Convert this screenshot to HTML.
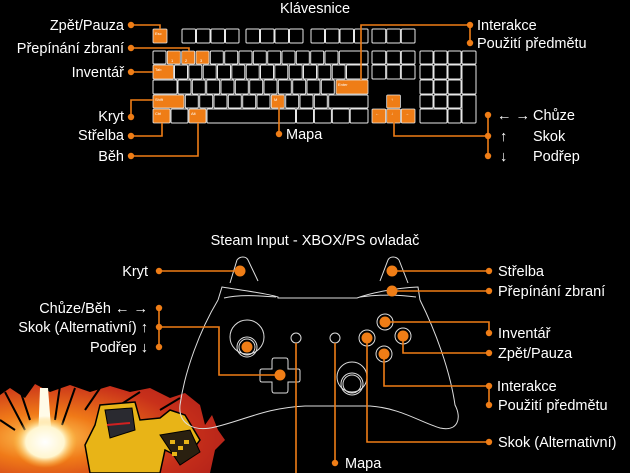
<!DOCTYPE html>
<html><head><meta charset="utf-8"><style>
html,body{margin:0;padding:0;background:#000;width:630px;height:473px;overflow:hidden}
svg{display:block}
text{font-family:"Liberation Sans","DejaVu Sans",sans-serif;fill:#fff;font-size:14.5px}
.k{fill:#000;stroke:#e8e8e8;stroke-width:1}
.o{fill:#ef7d16;stroke:#e8e8e8;stroke-width:0.8}
.l{stroke:#ef7d16;stroke-width:1.6;fill:none}
.d{fill:#ef7d16}
.c{fill:none;stroke:#ddd;stroke-width:1}
.t{font-size:4px}
</style></head><body>
<svg width="630" height="473" viewBox="0 0 630 473" xmlns="http://www.w3.org/2000/svg">
<defs>
<radialGradient id="g1" cx="0.2" cy="0.6" r="0.9"><stop offset="0" stop-color="#ffd060"/><stop offset="0.3" stop-color="#f07a18"/><stop offset="0.7" stop-color="#c8301a"/><stop offset="1" stop-color="#b0201a"/></radialGradient>
<radialGradient id="g2" cx="0.5" cy="0.5" r="0.5"><stop offset="0" stop-color="#fff"/><stop offset="0.6" stop-color="#fff6d0"/><stop offset="1" stop-color="#ffc040" stop-opacity="0"/></radialGradient>
</defs>
<!-- comic image -->
<polygon points="0,395 10,388 25,398 35,384 50,392 70,385 90,392 110,386 130,392 150,388 170,398 185,393 200,405 205,425 212,415 218,430 225,440 215,450 210,473 0,473" fill="url(#g1)"/>
<g stroke="#000" stroke-width="2">
<line x1="5" y1="392" x2="25" y2="430"/><line x1="20" y1="390" x2="30" y2="420"/><line x1="60" y1="386" x2="55" y2="420"/><line x1="75" y1="388" x2="62" y2="425"/><line x1="100" y1="388" x2="85" y2="410"/><line x1="140" y1="392" x2="120" y2="405"/><line x1="180" y1="398" x2="160" y2="410"/><line x1="0" y1="420" x2="15" y2="430"/>
</g>
<polygon points="40,388 48,388 52,440 38,440" fill="#fffbe8"/>
<ellipse cx="45" cy="442" rx="32" ry="26" fill="url(#g2)"/>
<path d="M95,425 L100,405 L135,402 L140,420 L160,418 L170,410 L185,415 L200,440 L185,460 L165,450 L160,473 L90,473 L85,445 Z" fill="#e8b417" stroke="#000" stroke-width="1.5"/>
<path d="M105,410 L132,408 L135,430 L110,438 Z" fill="#2a2a30" stroke="#000"/>
<line x1="107" y1="425" x2="130" y2="423" stroke="#d02020" stroke-width="2"/>
<path d="M160,435 L190,430 L200,452 L180,465 Z" fill="#2a2010" stroke="#000"/>
<g fill="#e8b417"><rect x="170" y="440" width="5" height="4"/><rect x="178" y="446" width="5" height="4"/><rect x="172" y="452" width="5" height="4"/><rect x="184" y="440" width="5" height="4"/></g>

<!-- titles -->
<text x="315" y="13" text-anchor="middle">Klávesnice</text>
<text x="315" y="245" text-anchor="middle">Steam Input - XBOX/PS ovladač</text>

<!-- keyboard -->
<g>
<rect class="o" x="153" y="29" width="14" height="14" rx="1"/>
<rect class="k" x="182" y="29" width="13.5" height="14" rx="1"/><rect class="k" x="196.5" y="29" width="13.5" height="14" rx="1"/><rect class="k" x="211" y="29" width="13.5" height="14" rx="1"/><rect class="k" x="225.5" y="29" width="13.5" height="14" rx="1"/>
<rect class="k" x="246" y="29" width="13.5" height="14" rx="1"/><rect class="k" x="260.5" y="29" width="13.5" height="14" rx="1"/><rect class="k" x="275" y="29" width="13.5" height="14" rx="1"/><rect class="k" x="289.5" y="29" width="13.5" height="14" rx="1"/>
<rect class="k" x="311" y="29" width="13.5" height="14" rx="1"/><rect class="k" x="325.5" y="29" width="13.5" height="14" rx="1"/><rect class="k" x="340" y="29" width="13.5" height="14" rx="1"/><rect class="k" x="354.5" y="29" width="13.5" height="14" rx="1"/>
<rect class="k" x="372" y="29" width="13.7" height="14" rx="1"/><rect class="k" x="386.7" y="29" width="13.7" height="14" rx="1"/><rect class="k" x="401.3" y="29" width="13.7" height="14" rx="1"/>
<rect class="k" x="153" y="51" width="13" height="13" rx="1"/>
<rect class="o" x="167.3" y="51" width="13" height="13" rx="1"/><rect class="o" x="181.7" y="51" width="13" height="13" rx="1"/><rect class="o" x="196" y="51" width="13" height="13" rx="1"/>
<rect class="k" x="210.3" y="51" width="13" height="13" rx="1"/><rect class="k" x="224.7" y="51" width="13" height="13" rx="1"/><rect class="k" x="239" y="51" width="13" height="13" rx="1"/><rect class="k" x="253.3" y="51" width="13" height="13" rx="1"/><rect class="k" x="267.7" y="51" width="13" height="13" rx="1"/><rect class="k" x="282" y="51" width="13" height="13" rx="1"/><rect class="k" x="296.3" y="51" width="13" height="13" rx="1"/><rect class="k" x="310.7" y="51" width="13" height="13" rx="1"/><rect class="k" x="325" y="51" width="13" height="13" rx="1"/><rect class="k" x="339.3" y="51" width="28.7" height="13" rx="1"/>
<rect class="o" x="153" y="65" width="20.5" height="14" rx="1"/>
<rect class="k" x="174.5" y="65" width="13" height="14" rx="1"/><rect class="k" x="188.8" y="65" width="13" height="14" rx="1"/><rect class="k" x="203.2" y="65" width="13" height="14" rx="1"/><rect class="k" x="217.5" y="65" width="13" height="14" rx="1"/><rect class="k" x="231.8" y="65" width="13" height="14" rx="1"/><rect class="k" x="246.2" y="65" width="13" height="14" rx="1"/><rect class="k" x="260.5" y="65" width="13" height="14" rx="1"/><rect class="k" x="274.8" y="65" width="13" height="14" rx="1"/><rect class="k" x="289.2" y="65" width="13" height="14" rx="1"/><rect class="k" x="303.5" y="65" width="13" height="14" rx="1"/><rect class="k" x="317.8" y="65" width="13" height="14" rx="1"/><rect class="k" x="332.2" y="65" width="13" height="14" rx="1"/><rect class="k" x="346.5" y="65" width="21.5" height="14" rx="1"/>
<rect class="k" x="153" y="80" width="24" height="14" rx="1"/>
<rect class="k" x="178" y="80" width="13" height="14" rx="1"/><rect class="k" x="192.3" y="80" width="13" height="14" rx="1"/><rect class="k" x="206.7" y="80" width="13" height="14" rx="1"/><rect class="k" x="221" y="80" width="13" height="14" rx="1"/><rect class="k" x="235.3" y="80" width="13" height="14" rx="1"/><rect class="k" x="249.7" y="80" width="13" height="14" rx="1"/><rect class="k" x="264" y="80" width="13" height="14" rx="1"/><rect class="k" x="278.3" y="80" width="13" height="14" rx="1"/><rect class="k" x="292.7" y="80" width="13" height="14" rx="1"/><rect class="k" x="307" y="80" width="13" height="14" rx="1"/><rect class="k" x="321.3" y="80" width="13" height="14" rx="1"/>
<rect class="o" x="336" y="80" width="32" height="14" rx="1"/>
<rect class="o" x="153" y="95" width="31" height="13" rx="1"/>
<rect class="k" x="185.3" y="95" width="13" height="13" rx="1"/><rect class="k" x="199.7" y="95" width="13" height="13" rx="1"/><rect class="k" x="214" y="95" width="13" height="13" rx="1"/><rect class="k" x="228.3" y="95" width="13" height="13" rx="1"/><rect class="k" x="242.7" y="95" width="13" height="13" rx="1"/><rect class="k" x="257" y="95" width="13" height="13" rx="1"/><rect class="o" x="271.3" y="95" width="13" height="13" rx="1"/><rect class="k" x="285.7" y="95" width="13" height="13" rx="1"/><rect class="k" x="300" y="95" width="13" height="13" rx="1"/><rect class="k" x="314.3" y="95" width="13" height="13" rx="1"/><rect class="k" x="328.7" y="95" width="39.3" height="13" rx="1"/>
<rect class="o" x="153" y="109" width="17" height="14" rx="1"/><rect class="k" x="171" y="109" width="17" height="14" rx="1"/><rect class="o" x="189" y="109" width="17" height="14" rx="1"/><rect class="k" x="207" y="109" width="88.5" height="14" rx="1"/><rect class="k" x="296.5" y="109" width="17" height="14" rx="1"/><rect class="k" x="314.4" y="109" width="17" height="14" rx="1"/><rect class="k" x="332.3" y="109" width="17" height="14" rx="1"/><rect class="k" x="350.2" y="109" width="17.8" height="14" rx="1"/>
<rect class="k" x="372" y="51" width="13.7" height="13" rx="1"/><rect class="k" x="386.7" y="51" width="13.7" height="13" rx="1"/><rect class="k" x="401.3" y="51" width="13.7" height="13" rx="1"/>
<rect class="k" x="372" y="65" width="13.7" height="14" rx="1"/><rect class="k" x="386.7" y="65" width="13.7" height="14" rx="1"/><rect class="k" x="401.3" y="65" width="13.7" height="14" rx="1"/>
<rect class="o" x="386.7" y="95" width="13.7" height="13" rx="1"/>
<rect class="o" x="372" y="109" width="13.7" height="14" rx="1"/><rect class="o" x="386.7" y="109" width="13.7" height="14" rx="1"/><rect class="o" x="401.3" y="109" width="13.7" height="14" rx="1"/>
<rect class="k" x="420" y="51" width="13" height="13" rx="1"/><rect class="k" x="434" y="51" width="13" height="13" rx="1"/><rect class="k" x="448" y="51" width="13" height="13" rx="1"/><rect class="k" x="462" y="51" width="14" height="13" rx="1"/>
<rect class="k" x="420" y="65" width="13" height="14" rx="1"/><rect class="k" x="434" y="65" width="13" height="14" rx="1"/><rect class="k" x="448" y="65" width="13" height="14" rx="1"/><rect class="k" x="462" y="65" width="14" height="29" rx="1"/>
<rect class="k" x="420" y="80" width="13" height="14" rx="1"/><rect class="k" x="434" y="80" width="13" height="14" rx="1"/><rect class="k" x="448" y="80" width="13" height="14" rx="1"/>
<rect class="k" x="420" y="95" width="13" height="13" rx="1"/><rect class="k" x="434" y="95" width="13" height="13" rx="1"/><rect class="k" x="448" y="95" width="13" height="13" rx="1"/><rect class="k" x="462" y="95" width="14" height="28" rx="1"/>
<rect class="k" x="420" y="109" width="27" height="14" rx="1"/><rect class="k" x="448" y="109" width="13" height="14" rx="1"/>
<text class="t" x="155" y="35">Esc</text><text class="t" x="171" y="62">1</text><text class="t" x="185" y="62">2</text><text class="t" x="200" y="62">3</text>
<text class="t" x="155" y="71">Tab</text><text class="t" x="338" y="86">Enter</text><text class="t" x="155" y="101">Shift</text><text class="t" x="274" y="101">M</text><text class="t" x="155" y="115">Ctrl</text><text class="t" x="191" y="115">Alt</text>
<text class="t" x="391" y="101">↑</text><text class="t" x="375" y="115">←</text><text class="t" x="391" y="115">↓</text><text class="t" x="405" y="115">→</text>
</g>

<path class="l" d="M131,25 H160 V29"/>
<path class="l" d="M131,48 H189 V51"/>
<path class="l" d="M131,72 H153"/>
<path class="l" d="M131,117 V100 H153"/>
<path class="l" d="M131,136 H162 V123"/>
<path class="l" d="M131,156 H198 V123"/>
<path class="l" d="M279,134 V103"/>
<path class="l" d="M470,25 H361 V80"/>
<path class="l" d="M470,25 V43"/>
<path class="l" d="M488,115 V156"/>
<path class="l" d="M488,136 H394 V120"/>
<g class="d">
<circle cx="131" cy="25" r="3.2"/><circle cx="131" cy="48" r="3.2"/><circle cx="131" cy="72" r="3.2"/><circle cx="131" cy="117" r="3.2"/><circle cx="131" cy="136" r="3.2"/><circle cx="131" cy="156" r="3.2"/><circle cx="279" cy="134" r="3.2"/>
<circle cx="470" cy="25" r="3.2"/><circle cx="470" cy="43" r="3.2"/><circle cx="488" cy="115" r="3.2"/><circle cx="488" cy="136" r="3.2"/><circle cx="488" cy="156" r="3.2"/>
</g>
<g text-anchor="end">
<text x="124" y="30">Zpět/Pauza</text><text x="124" y="53">Přepínání zbraní</text><text x="124" y="77">Inventář</text><text x="124" y="121">Kryt</text><text x="124" y="140">Střelba</text><text x="124" y="161">Běh</text>
</g>
<text x="286" y="139">Mapa</text>
<text x="477" y="30">Interakce</text><text x="477" y="48">Použití předmětu</text>
<text x="497" y="120">← →</text><text x="533" y="120">Chůze</text>
<text x="500" y="141">↑</text><text x="533" y="141">Skok</text>
<text x="500" y="161">↓</text><text x="533" y="161">Podřep</text>

<g class="c">
<path d="M218,300 C200,330 185,370 180,405 C178,425 195,432 215,427 C245,420 265,408 305,406 L370,406 C400,408 420,422 440,428 C458,432 462,418 455,405 C450,370 435,330 420,300"/>
<path d="M218,300 L222,287 C240,290 265,293 278,297 L278,298 L357,298 C370,293 395,288 418,287 L420,300"/>
<path d="M224,298 C240,294 262,296 276,297"/><path d="M360,297 C375,295 395,294 416,297"/>
<path d="M230,283 L237,260 C240,256 246,256 248,260 L258,281"/>
<path d="M380,281 L388,260 C390,256 396,256 399,260 L408,283"/>
<circle cx="247" cy="337" r="17"/><circle cx="247" cy="347" r="10"/><circle cx="247" cy="347" r="8"/>
<circle cx="296" cy="338" r="5"/><circle cx="335" cy="338" r="5"/>
<circle cx="385" cy="322" r="8"/><circle cx="403" cy="336" r="8"/><circle cx="367" cy="338" r="8"/><circle cx="384" cy="354" r="8"/>
<circle cx="352" cy="377" r="15"/><circle cx="352" cy="384" r="11"/><circle cx="352" cy="384" r="9"/>
<path d="M274,358 H286 Q288,358 288,361 V369 H298 Q300,369 300,371 V380 Q300,382 298,382 H288 V390 Q288,393 286,393 H274 Q272,393 272,390 V382 H262 Q260,382 260,380 V371 Q260,369 262,369 H272 V361 Q272,358 274,358 Z"/>
</g>

<path class="l" d="M159,271 H240"/>
<path class="l" d="M392,271 H489"/>
<path class="l" d="M392,291 H489"/>
<path class="l" d="M159,308 V347"/>
<path class="l" d="M159,327 H219 V375 H280"/>
<path class="l" d="M296,343 V473"/>
<path class="l" d="M335,343 V463"/>
<path class="l" d="M385,322 H489 V333"/>
<path class="l" d="M403,336 V353 H489"/>
<path class="l" d="M384,354 V386 H489 V405"/>
<path class="l" d="M367,338 V442 H489"/>
<g class="d">
<circle cx="159" cy="271" r="3.2"/><circle cx="240" cy="271" r="5.5"/>
<circle cx="392" cy="271" r="5.5"/><circle cx="489" cy="271" r="3.2"/>
<circle cx="392" cy="291" r="5.5"/><circle cx="489" cy="291" r="3.2"/>
<circle cx="159" cy="308" r="3.2"/><circle cx="159" cy="327" r="3.2"/><circle cx="159" cy="347" r="3.2"/>
<circle cx="247" cy="347" r="5.5"/><circle cx="280" cy="375" r="5.5"/>
<circle cx="385" cy="322" r="5.5"/><circle cx="403" cy="336" r="5.5"/><circle cx="367" cy="338" r="5.5"/><circle cx="384" cy="354" r="5.5"/>
<circle cx="489" cy="333" r="3.2"/><circle cx="489" cy="353" r="3.2"/><circle cx="489" cy="386" r="3.2"/><circle cx="489" cy="405" r="3.2"/><circle cx="489" cy="442" r="3.2"/>
<circle cx="335" cy="463" r="3.2"/>
</g>
<text x="148" y="276" text-anchor="end">Kryt</text>
<text x="148" y="313" text-anchor="end">Chůze/Běh ← →</text>
<text x="148" y="332" text-anchor="end">Skok (Alternativní) ↑</text>
<text x="148" y="352" text-anchor="end">Podřep ↓</text>
<text x="498" y="276">Střelba</text>
<text x="498" y="296">Přepínání zbraní</text>
<text x="498" y="338">Inventář</text>
<text x="498" y="358">Zpět/Pauza</text>
<text x="497" y="391">Interakce</text>
<text x="498" y="410">Použití předmětu</text>
<text x="498" y="447">Skok (Alternativní)</text>
<text x="345" y="468">Mapa</text>
</svg>
</body></html>
